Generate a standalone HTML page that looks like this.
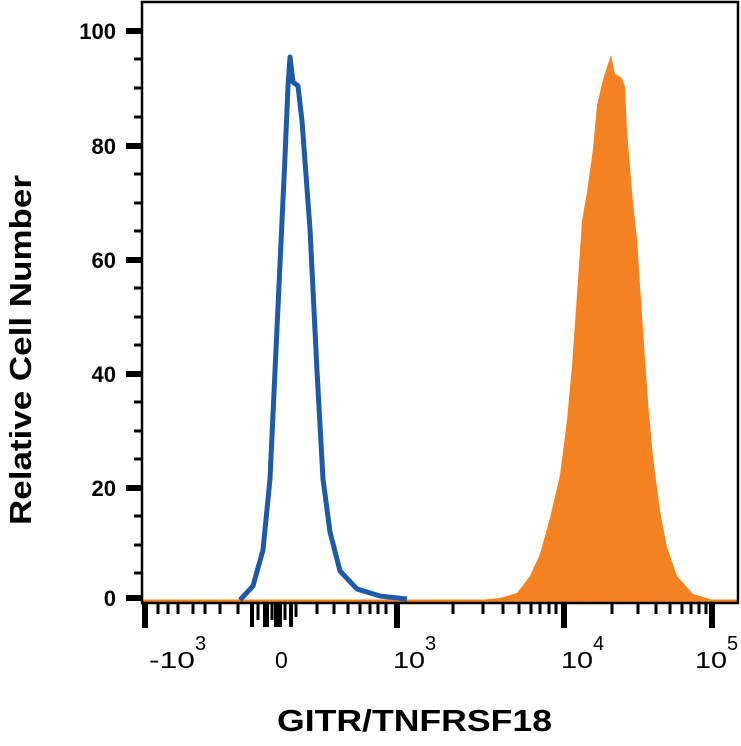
<!DOCTYPE html>
<html><head><style>body{margin:0;background:#fff}svg{display:block}</style></head><body>
<svg width="741" height="746" viewBox="0 0 741 746" xmlns="http://www.w3.org/2000/svg" font-family="Liberation Sans, sans-serif">
<rect width="741" height="746" fill="#fff"/>
<path d="M142,601 L480,600 L500,598 L517,593 L530,576 L540,554 L550,518 L560,475 L567,420 L572,366 L577,294 L582,221 L587,192 L593,149 L597,105 L603,80 L607,67 L611,55 L615,74 L622,78 L625,87 L627,131 L633,203 L637,239 L643,330 L648,402 L653,457 L660,511 L667,547 L677,576 L693,594 L713,600 L738,601 Z" fill="#f58220"/>
<line x1="142" y1="601" x2="738" y2="601" stroke="#f58220" stroke-width="3"/>
<path d="M240,600 L253,586 L263,550 L270,479 L275,371 L280,264 L285,157 L288,86 L290,57 L293,82 L298,86 L302,121 L310,229 L317,371 L323,479 L330,532 L340,571 L357,589 L380,596 L407,599" fill="none" stroke="#1f5aa8" stroke-width="5" stroke-linejoin="round"/>
<rect x="142" y="2" width="596" height="601" fill="none" stroke="#000" stroke-width="2.5"/>
<g stroke="#000">
<line x1="126" y1="31" x2="142" y2="31" stroke-width="6"/>
<line x1="126" y1="146" x2="142" y2="146" stroke-width="6"/>
<line x1="126" y1="260" x2="142" y2="260" stroke-width="6"/>
<line x1="126" y1="374" x2="142" y2="374" stroke-width="6"/>
<line x1="126" y1="488" x2="142" y2="488" stroke-width="6"/>
<line x1="126" y1="598" x2="142" y2="598" stroke-width="6"/>
<g stroke-width="3">
<line x1="134" y1="59" x2="142" y2="59"/><line x1="134" y1="88" x2="142" y2="88"/><line x1="134" y1="117" x2="142" y2="117"/>
<line x1="134" y1="174" x2="142" y2="174"/><line x1="134" y1="203" x2="142" y2="203"/><line x1="134" y1="231" x2="142" y2="231"/>
<line x1="134" y1="288" x2="142" y2="288"/><line x1="134" y1="317" x2="142" y2="317"/><line x1="134" y1="345" x2="142" y2="345"/>
<line x1="134" y1="402" x2="142" y2="402"/><line x1="134" y1="431" x2="142" y2="431"/><line x1="134" y1="459" x2="142" y2="459"/>
<line x1="134" y1="516" x2="142" y2="516"/><line x1="134" y1="545" x2="142" y2="545"/><line x1="134" y1="573" x2="142" y2="573"/>
</g>
</g>
<g font-size="22" font-weight="bold" text-anchor="end">
<text x="116" y="39">100</text><text x="116" y="154">80</text><text x="116" y="268">60</text>
<text x="116" y="382">40</text><text x="116" y="496">20</text><text x="116" y="606">0</text>
</g>
<g stroke="#000">
<line x1="145" y1="603" x2="145" y2="628" stroke-width="6"/>
<line x1="397" y1="603" x2="397" y2="628" stroke-width="6"/>
<line x1="564" y1="603" x2="564" y2="628" stroke-width="6"/>
<line x1="712" y1="603" x2="712" y2="628" stroke-width="6"/>
<g stroke-width="3">
<line x1="158" y1="603" x2="158" y2="614"/><line x1="168" y1="603" x2="168" y2="614"/><line x1="178" y1="603" x2="178" y2="614"/>
<line x1="193" y1="603" x2="193" y2="614"/><line x1="205" y1="603" x2="205" y2="614"/><line x1="220" y1="603" x2="220" y2="614"/>
<line x1="238" y1="603" x2="238" y2="614"/>
<line x1="317" y1="603" x2="317" y2="614"/><line x1="334" y1="603" x2="334" y2="614"/><line x1="348" y1="603" x2="348" y2="614"/>
<line x1="360" y1="603" x2="360" y2="614"/><line x1="370" y1="603" x2="370" y2="614"/><line x1="378" y1="603" x2="378" y2="614"/><line x1="386" y1="603" x2="386" y2="614"/>
<line x1="453" y1="603" x2="453" y2="614"/><line x1="483" y1="603" x2="483" y2="614"/><line x1="503" y1="603" x2="503" y2="614"/>
<line x1="519" y1="603" x2="519" y2="614"/><line x1="531" y1="603" x2="531" y2="614"/><line x1="540" y1="603" x2="540" y2="614"/><line x1="549" y1="603" x2="549" y2="614"/><line x1="556" y1="603" x2="556" y2="614"/>
<line x1="612" y1="603" x2="612" y2="614"/><line x1="638" y1="603" x2="638" y2="614"/><line x1="656" y1="603" x2="656" y2="614"/>
<line x1="670" y1="603" x2="670" y2="614"/><line x1="682" y1="603" x2="682" y2="614"/><line x1="691" y1="603" x2="691" y2="614"/><line x1="699" y1="603" x2="699" y2="614"/><line x1="706" y1="603" x2="706" y2="614"/>
</g>
<line x1="252" y1="603" x2="252" y2="627" stroke-width="4"/>
<line x1="266" y1="603" x2="266" y2="627" stroke-width="6"/>
<line x1="278" y1="603" x2="278" y2="627" stroke-width="8"/>
<line x1="291" y1="603" x2="291" y2="627" stroke-width="4"/>
<line x1="258" y1="603" x2="258" y2="620" stroke-width="3"/>
<line x1="285" y1="603" x2="285" y2="620" stroke-width="3"/>
<line x1="296" y1="603" x2="296" y2="617" stroke-width="3"/>
<line x1="272" y1="603" x2="272" y2="620" stroke-width="3"/>
</g>
<g font-size="23">
<text x="149" y="668" textLength="46" lengthAdjust="spacingAndGlyphs">-10</text><text x="195" y="650" font-size="20">3</text>
<text x="275" y="668">0</text>
<text x="393" y="668" textLength="32" lengthAdjust="spacingAndGlyphs">10</text><text x="425" y="650" font-size="20">3</text>
<text x="561" y="668" textLength="32" lengthAdjust="spacingAndGlyphs">10</text><text x="593" y="650" font-size="20">4</text>
<text x="695" y="668" textLength="32" lengthAdjust="spacingAndGlyphs">10</text><text x="727" y="650" font-size="20">5</text>
</g>
<text x="277" y="731" font-size="31" font-weight="bold" textLength="275" lengthAdjust="spacingAndGlyphs">GITR/TNFRSF18</text>
<text transform="translate(31,525) rotate(-90)" font-size="31" font-weight="bold" textLength="350" lengthAdjust="spacingAndGlyphs">Relative Cell Number</text>
</svg>
</body></html>
